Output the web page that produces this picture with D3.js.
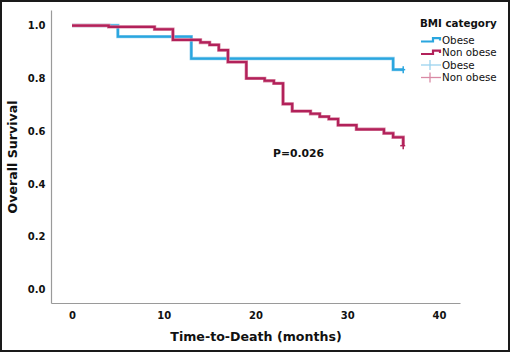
<!DOCTYPE html>
<html><head><meta charset="utf-8">
<script src="https://cdn.jsdelivr.net/npm/d3@7"></script>
<style>body{margin:0;background:#fff}svg{display:block}</style>
</head><body>
<svg id="c" width="511" height="353"></svg>
<script>
// Data
const obeseTimes   = [0, 5, 13, 35];
const obeseSurv    = [1.0, 0.958, 0.875, 0.833];
const obeseCensor  = [[36.1, 0.833]];
const nonObeseTimes = [0, 4, 9, 11, 14, 15, 16, 17, 19, 21, 22, 23, 24, 26, 27, 28, 29, 31, 34, 35, 36.1];
const nonObeseSurv  = [1.0, 0.995, 0.986, 0.946, 0.936, 0.927, 0.907, 0.862, 0.800, 0.791, 0.781, 0.703, 0.676, 0.666, 0.655, 0.646, 0.623, 0.607, 0.592, 0.577, 0.545];
const nonObeseCensor = [[36.1, 0.545]];
const xTicks = [0, 10, 20, 30, 40];
const yTicks = [0.0, 0.2, 0.4, 0.6, 0.8, 1.0];
const legendLabels = ["Obese", "Non obese"];
const pText = "P=0.026";

const blue = "#2aa6df", red = "#b2215a";
const lightBlue = "#9bd3ef", lightRed = "#d98aa5";
const font = "'DejaVu Sans', sans-serif";

const svg = d3.select("#c");
svg.append("rect").attr("x",1).attr("y",1).attr("width",508).attr("height",350)
  .attr("fill","#fff").attr("stroke","#1a1a1a").attr("stroke-width",2);

const x = d3.scaleLinear().domain([-2.29, 42.29]).range([51, 460]);
const y = d3.scaleLinear().domain([-0.051, 1.059]).range([303, 10]);

const gx = svg.append("g").attr("transform","translate(0,303)")
  .call(d3.axisBottom(x).tickValues(xTicks).tickSize(0).tickPadding(9).tickFormat(d3.format("d")));
const gy = svg.append("g").attr("transform","translate(51,0)")
  .call(d3.axisLeft(y).tickValues(yTicks).tickSize(0).tickPadding(5.5).tickFormat(d3.format(".1f")));
[gx, gy].forEach(g => {
  g.select(".domain").attr("stroke","#9a9a9a").attr("stroke-width",1.2);
  g.selectAll("text").attr("font-family",font).attr("font-weight","bold")
   .attr("font-size","10px").attr("fill","#111");
});

function stepPath(times, surv, endT){
  const pts = [];
  for (let i=0;i<times.length;i++){
    if (i>0) pts.push([times[i], surv[i-1]]);
    pts.push([times[i], surv[i]]);
  }
  if (endT !== undefined && endT > times[times.length-1]) pts.push([endT, surv[surv.length-1]]);
  return d3.line().x(d=>x(d[0])).y(d=>y(d[1]))(pts);
}

function drawCurve(times, surv, censor, col, light){
  const d = stepPath(times, surv, censor[0][0]);
  svg.append("path").attr("d", d).attr("fill","none").attr("stroke", light)
    .attr("stroke-width", 3.4).attr("stroke-linejoin","miter");
  svg.append("path").attr("d", d).attr("fill","none").attr("stroke", col)
    .attr("stroke-width", 2.2).attr("stroke-linejoin","miter");
  censor.forEach(c => {
    svg.append("line").attr("x1", x(c[0])).attr("x2", x(c[0]))
      .attr("y1", y(c[1]) - 3.5).attr("y2", y(c[1]) + 3.5)
      .attr("stroke", col).attr("stroke-width", 1.5);
    svg.append("line").attr("x1", x(c[0]) - 3).attr("x2", x(c[0]) + 2)
      .attr("y1", y(c[1])).attr("y2", y(c[1]))
      .attr("stroke", col).attr("stroke-width", 1.5);
  });
}
drawCurve(obeseTimes, obeseSurv, obeseCensor, blue, lightBlue);
drawCurve(nonObeseTimes, nonObeseSurv, nonObeseCensor, red, lightRed);

svg.append("text").attr("x", 273).attr("y", 157).text(pText)
  .attr("font-family", font).attr("font-weight","bold").attr("font-size","10.8px").attr("fill","#111");

// Axis titles
svg.append("text").attr("x", 256).attr("y", 341).attr("text-anchor","middle")
  .text("Time-to-Death (months)").attr("font-family", font).attr("font-weight","bold")
  .attr("font-size","12.6px").attr("fill","#111");
svg.append("text").attr("transform","translate(17,157) rotate(-90)").attr("text-anchor","middle")
  .text("Overall Survival").attr("font-family", font).attr("font-weight","bold")
  .attr("font-size","12.6px").attr("fill","#111");

// Legend
const lg = svg.append("g");
lg.append("text").attr("x", 420).attr("y", 26.5).text("BMI category")
  .attr("font-family", font).attr("font-weight","bold").attr("font-size","10.3px").attr("fill","#111");
const rowY = [40, 52.5, 65, 77.5];
const cols = [blue, red, lightBlue, lightRed];
const labels = [legendLabels[0], legendLabels[1], legendLabels[0], legendLabels[1]];
rowY.forEach((ry, i) => {
  if (i < 2) {
    const p = `M421,${ry+1.5} H433 V${ry-1.8} H440 V${ry+0.5}`;
    lg.append("path").attr("d", p).attr("fill","none").attr("stroke", cols[i]).attr("stroke-width", 2.2);
  } else {
    lg.append("line").attr("x1",421).attr("x2",441).attr("y1",ry).attr("y2",ry)
      .attr("stroke", cols[i]).attr("stroke-width",1.3);
    lg.append("line").attr("x1",430).attr("x2",430).attr("y1",ry-5).attr("y2",ry+5)
      .attr("stroke", cols[i]).attr("stroke-width",1.3);
  }
  lg.append("text").attr("x", 442).attr("y", ry + 3.6).text(labels[i])
    .attr("font-family", font).attr("font-size","10.3px").attr("fill","#111");
});
</script>
</body></html>
